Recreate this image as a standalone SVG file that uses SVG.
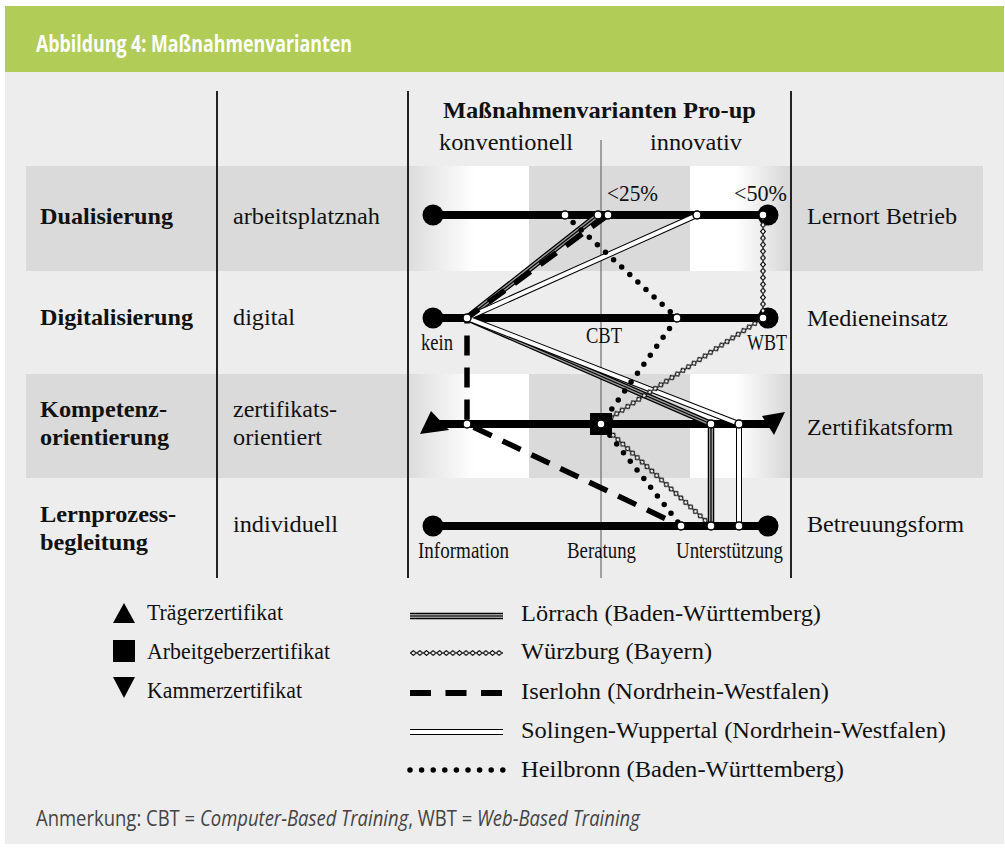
<svg xmlns="http://www.w3.org/2000/svg" width="1005" height="848" viewBox="0 0 1005 848">
<defs>
<style>
.t{font-family:"Liberation Serif","Times New Roman",serif;font-size:23px;fill:#111}
.b{font-weight:bold}
.lg{font-size:23.5px}
.hl{stroke:#000;stroke-width:8;fill:none}
.nd{fill:#fff;stroke:#000;stroke-width:1.5}
.vl{stroke:#222;stroke-width:2}
.lo1{stroke:#000;stroke-width:6.5;fill:none;stroke-linejoin:round}
.lo2{stroke:#9a9a9a;stroke-width:4;fill:none;stroke-linejoin:round}
.lo3{stroke:#000;stroke-width:1.2;fill:none;stroke-linejoin:round}
.so1{stroke:#000;stroke-width:6;fill:none;stroke-linejoin:round}
.so2{stroke:#fff;stroke-width:4;fill:none;stroke-linejoin:round}
.is{stroke:#000;stroke-width:5.5;stroke-dasharray:20 12;fill:none}
.isl{stroke:#000;stroke-width:6;stroke-dasharray:21 14.5;fill:none}
.hb{stroke:#000;stroke-width:5.5;stroke-dasharray:0 11;stroke-linecap:round;fill:none}
.hbl{stroke:#000;stroke-width:5.5;stroke-dasharray:0 11.6;stroke-linecap:round;fill:none}
.fn{font-family:"Open Sans","Liberation Sans",sans-serif;font-size:21px;fill:#444}
.it{font-style:italic}
</style>
<linearGradient id="gl" x1="0" y1="0" x2="1" y2="0"><stop offset="0" stop-color="#dcdcdc"/><stop offset="0.55" stop-color="#fff"/><stop offset="1" stop-color="#fff"/></linearGradient>
<linearGradient id="gr" x1="0" y1="0" x2="1" y2="0"><stop offset="0" stop-color="#fff"/><stop offset="0.45" stop-color="#fff"/><stop offset="1" stop-color="#d6d6d6"/></linearGradient>
<pattern id="zz" patternUnits="userSpaceOnUse" x="0" y="-3" width="6.6" height="6"><path d="M0.5,3 L3.3,0.6 L6.1,3 L3.3,5.4 Z" fill="#fff" stroke="#000" stroke-width="1.1"/></pattern>
<path id="pLo" d="M598,215 L467,318 L711,424 L711,526"/>
<path id="pSo" d="M697,215 L467,318 L739,424 L739,526"/>
<path id="pLoL" d="M410,616 H503"/>
<path id="pSoL" d="M410,732 H503"/>
</defs>

<rect x="0" y="0" width="1005" height="848" fill="#fff"/>
<rect x="5" y="6" width="999" height="838" fill="#ededed"/>
<rect x="5" y="6" width="999" height="66" fill="#b1cd57"/>
<text x="36" y="52" font-family="'Open Sans','Liberation Sans',sans-serif" font-size="23" font-weight="bold" fill="#fff" textLength="316" lengthAdjust="spacingAndGlyphs">Abbildung 4: Maßnahmenvarianten</text>

<g id="bands">
<rect x="26" y="166" width="957" height="105" fill="#dadada"/>
<rect x="26" y="374" width="957" height="104" fill="#dadada"/>
<rect x="408" y="166" width="121" height="105" fill="url(#gl)"/>
<rect x="690" y="166" width="101" height="105" fill="url(#gr)"/>
<rect x="408" y="374" width="121" height="104" fill="url(#gl)"/>
<rect x="690" y="374" width="101" height="104" fill="url(#gr)"/>
</g>

<g id="grid">
<line class="vl" x1="217" y1="91" x2="217" y2="578"/>
<line class="vl" x1="408" y1="91" x2="408" y2="578"/>
<line class="vl" x1="791" y1="91" x2="791" y2="578"/>
<line x1="601" y1="140" x2="601" y2="578" stroke="#555" stroke-width="1"/>
</g>

<g id="row-labels">
<text class="t b" x="40" y="224" textLength="133" lengthAdjust="spacingAndGlyphs">Dualisierung</text>
<text class="t b" x="40" y="325" textLength="153" lengthAdjust="spacingAndGlyphs">Digitalisierung</text>
<text class="t b" x="40" y="417" textLength="127" lengthAdjust="spacingAndGlyphs">Kompetenz-</text>
<text class="t b" x="40" y="445" textLength="129" lengthAdjust="spacingAndGlyphs">orientierung</text>
<text class="t b" x="40" y="522" textLength="136" lengthAdjust="spacingAndGlyphs">Lernprozess-</text>
<text class="t b" x="40" y="550" textLength="108" lengthAdjust="spacingAndGlyphs">begleitung</text>
<text class="t" x="233" y="224" textLength="147" lengthAdjust="spacingAndGlyphs">arbeitsplatznah</text>
<text class="t" x="233" y="325" textLength="62" lengthAdjust="spacingAndGlyphs">digital</text>
<text class="t" x="233" y="417" textLength="104" lengthAdjust="spacingAndGlyphs">zertifikats-</text>
<text class="t" x="233" y="445" textLength="89" lengthAdjust="spacingAndGlyphs">orientiert</text>
<text class="t" x="233" y="532" textLength="105" lengthAdjust="spacingAndGlyphs">individuell</text>
<text class="t" x="807" y="224" textLength="150" lengthAdjust="spacingAndGlyphs">Lernort Betrieb</text>
<text class="t" x="807" y="326" textLength="141" lengthAdjust="spacingAndGlyphs">Medieneinsatz</text>
<text class="t" x="807" y="435" textLength="146" lengthAdjust="spacingAndGlyphs">Zertifikatsform</text>
<text class="t" x="807" y="532" textLength="157" lengthAdjust="spacingAndGlyphs">Betreuungsform</text>
</g>

<g id="header">
<text class="t b" x="443" y="118" textLength="313" lengthAdjust="spacingAndGlyphs">Maßnahmenvarianten Pro-up</text>
<text class="t" x="439" y="150" textLength="134" lengthAdjust="spacingAndGlyphs">konventionell</text>
<text class="t" x="650" y="150" textLength="92" lengthAdjust="spacingAndGlyphs">innovativ</text>
</g>

<g id="axes">
<line class="hl" x1="433" y1="215" x2="768" y2="215"/>
<line class="hl" x1="433" y1="318" x2="768" y2="318"/>
<line class="hl" x1="430" y1="424" x2="772" y2="424"/>
<line class="hl" x1="433" y1="526" x2="768" y2="526"/>
<circle cx="433" cy="215" r="10.5"/>
<circle cx="768" cy="215" r="10.5"/>
<circle cx="433" cy="318" r="10.5"/>
<circle cx="768" cy="318" r="10.5"/>
<circle cx="433" cy="526" r="10.5"/>
<circle cx="768" cy="526" r="10.5"/>
<polygon points="431,411 420,434 449,430"/>
<polygon points="762,416 785,412 774,435"/>
<text class="t" x="607" y="201" textLength="51" lengthAdjust="spacingAndGlyphs">&lt;25%</text>
<text class="t" x="734" y="201" textLength="53" lengthAdjust="spacingAndGlyphs">&lt;50%</text>
<text class="t" x="421" y="350" textLength="32" lengthAdjust="spacingAndGlyphs">kein</text>
<text class="t" x="586" y="343" textLength="36" lengthAdjust="spacingAndGlyphs">CBT</text>
<text class="t" x="747" y="350" textLength="40" lengthAdjust="spacingAndGlyphs">WBT</text>
<text class="t" x="418" y="558" textLength="91" lengthAdjust="spacingAndGlyphs">Information</text>
<text class="t" x="567" y="558" textLength="69" lengthAdjust="spacingAndGlyphs">Beratung</text>
<text class="t" x="676" y="558" textLength="107" lengthAdjust="spacingAndGlyphs">Unterstützung</text>
</g>

<g id="connectors">
<g id="loerrach">
<use href="#pLo" class="lo1"/><use href="#pLo" class="lo2"/><use href="#pLo" class="lo3"/>
</g>
<g id="solingen">
<use href="#pSo" class="so1"/><use href="#pSo" class="so2"/>
</g>
<path id="iserlohn" class="is" d="M608,215 L467,318 L467,424 L681,526"/>
<path id="heilbronn" class="hb" d="M565,215 L677,318 L601,424 L681,526"/>
<g id="wuerzburg">
<rect x="0" y="-3" width="103" height="6" fill="url(#zz)" transform="translate(763,215) rotate(90)"/>
<rect x="0" y="-3" width="193.6" height="6" fill="url(#zz)" transform="translate(763,318) rotate(146.8)"/>
<rect x="0" y="-3" width="150" height="6" fill="url(#zz)" transform="translate(601,424) rotate(42.8)"/>
</g>
</g>

<g id="nodes">
<rect x="590" y="413" width="22" height="22" fill="#000"/>
<circle class="nd" cx="565" cy="215" r="4"/>
<circle class="nd" cx="598" cy="215" r="4"/>
<circle class="nd" cx="608" cy="215" r="4"/>
<circle class="nd" cx="697" cy="215" r="4"/>
<circle class="nd" cx="763" cy="215" r="4"/>
<circle class="nd" cx="467" cy="318" r="4"/>
<circle class="nd" cx="677" cy="318" r="4"/>
<circle class="nd" cx="763" cy="318" r="4"/>
<circle class="nd" cx="467" cy="424" r="4"/>
<circle class="nd" cx="601" cy="424" r="4"/>
<circle class="nd" cx="711" cy="424" r="4"/>
<circle class="nd" cx="739" cy="424" r="4"/>
<circle class="nd" cx="681" cy="526" r="4"/>
<circle class="nd" cx="711" cy="526" r="4"/>
<circle class="nd" cx="739" cy="526" r="4"/>
</g>

<g id="legend">
<polygon points="113,623 124,603 135,623"/>
<rect x="113" y="640" width="22" height="22"/>
<polygon points="113,677 135,677 124,698"/>
<text class="t lg" x="147" y="620" textLength="136" lengthAdjust="spacingAndGlyphs">Trägerzertifikat</text>
<text class="t lg" x="147" y="659" textLength="183" lengthAdjust="spacingAndGlyphs">Arbeitgeberzertifikat</text>
<text class="t lg" x="147" y="698" textLength="155" lengthAdjust="spacingAndGlyphs">Kammerzertifikat</text>
<use href="#pLoL" class="lo1"/><use href="#pLoL" class="lo2"/><use href="#pLoL" class="lo3"/>
<rect x="0" y="-3" width="93" height="6" fill="url(#zz)" transform="translate(410,653)"/>
<path class="isl" d="M410,693 H503"/>
<use href="#pSoL" class="so1"/><use href="#pSoL" class="so2"/>
<path class="hbl" d="M410,770 H503"/>
<text class="t lg" x="521" y="621" textLength="300" lengthAdjust="spacingAndGlyphs">Lörrach (Baden-Württemberg)</text>
<text class="t lg" x="521" y="659" textLength="191" lengthAdjust="spacingAndGlyphs">Würzburg (Bayern)</text>
<text class="t lg" x="521" y="699" textLength="308" lengthAdjust="spacingAndGlyphs">Iserlohn (Nordrhein-Westfalen)</text>
<text class="t lg" x="521" y="738" textLength="425" lengthAdjust="spacingAndGlyphs">Solingen-Wuppertal (Nordrhein-Westfalen)</text>
<text class="t lg" x="521" y="777" textLength="323" lengthAdjust="spacingAndGlyphs">Heilbronn (Baden-Württemberg)</text>
</g>

<g id="footnote" transform="translate(36,826) scale(0.88,1)">
<text class="fn" x="0" y="0">Anmerkung: CBT = <tspan class="it">Computer-Based Training</tspan>, WBT = <tspan class="it">Web-Based Training</tspan></text>
</g>
</svg>
